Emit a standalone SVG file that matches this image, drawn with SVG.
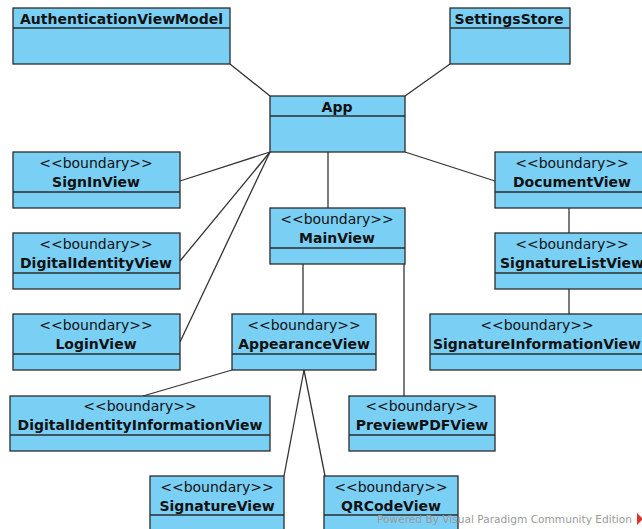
<svg xmlns="http://www.w3.org/2000/svg" width="642" height="529" viewBox="0 0 642 529">
<style>
.box{fill:#7acff5;stroke:#2b2b2b;stroke-width:1.3}
.div{stroke:#2b2b2b;stroke-width:1.3}
.st{font-family:"DejaVu Sans",sans-serif;font-size:14px;fill:#111;text-anchor:middle}
.nm{font-family:"DejaVu Sans",sans-serif;font-size:14px;font-weight:bold;fill:#111;text-anchor:middle}
.edges line{stroke:#333;stroke-width:1.3}
.wm{font-family:"DejaVu Sans",sans-serif;font-size:11px;fill:#9a9a9a}
</style>
<rect width="642" height="529" fill="#fff"/>
<g class="edges" id="connectors">
<line x1="230" y1="64" x2="270" y2="96"/>
<line x1="450" y1="64" x2="405" y2="96"/>
<line x1="270" y1="152" x2="180" y2="181"/>
<line x1="270" y1="152" x2="180" y2="261"/>
<line x1="270" y1="152" x2="180" y2="342"/>
<line x1="328" y1="152" x2="328" y2="208"/>
<line x1="405" y1="152" x2="495" y2="181"/>
<line x1="569" y1="208" x2="569" y2="233"/>
<line x1="569" y1="289" x2="569" y2="314"/>
<line x1="303" y1="264" x2="303" y2="314"/>
<line x1="404" y1="264" x2="404" y2="396"/>
<line x1="232" y1="370" x2="143" y2="396"/>
<line x1="304" y1="370" x2="284" y2="476"/>
<line x1="304" y1="370" x2="325" y2="476"/>
</g>
<g id="AuthenticationViewModel">
<rect class="box" x="13" y="8" width="217" height="56"/>
<line class="div" x1="13" y1="28" x2="230" y2="28"/>
<text class="nm" x="121.5" y="24">AuthenticationViewModel</text>
</g>
<g id="SettingsStore">
<rect class="box" x="450" y="8" width="120" height="56"/>
<line class="div" x1="450" y1="28" x2="570" y2="28"/>
<text class="nm" x="509" y="24">SettingsStore</text>
</g>
<g id="App">
<rect class="box" x="270" y="96" width="135" height="56"/>
<line class="div" x1="270" y1="116" x2="405" y2="116"/>
<text class="nm" x="337" y="112">App</text>
</g>
<g id="SignInView">
<rect class="box" x="13" y="152" width="167" height="56"/>
<line class="div" x1="13" y1="192" x2="180" y2="192"/>
<text class="st" x="96" y="168">&lt;&lt;boundary&gt;&gt;</text>
<text class="nm" x="96" y="187">SignInView</text>
</g>
<g id="DigitalIdentityView">
<rect class="box" x="13" y="233" width="167" height="56"/>
<line class="div" x1="13" y1="273" x2="180" y2="273"/>
<text class="st" x="96" y="249">&lt;&lt;boundary&gt;&gt;</text>
<text class="nm" x="96" y="268">DigitalIdentityView</text>
</g>
<g id="LoginView">
<rect class="box" x="13" y="314" width="167" height="56"/>
<line class="div" x1="13" y1="354" x2="180" y2="354"/>
<text class="st" x="96" y="330">&lt;&lt;boundary&gt;&gt;</text>
<text class="nm" x="96" y="349">LoginView</text>
</g>
<g id="MainView">
<rect class="box" x="270" y="208" width="135" height="56"/>
<line class="div" x1="270" y1="248" x2="405" y2="248"/>
<text class="st" x="337" y="224">&lt;&lt;boundary&gt;&gt;</text>
<text class="nm" x="337" y="243">MainView</text>
</g>
<g id="AppearanceView">
<rect class="box" x="232" y="314" width="144" height="56"/>
<line class="div" x1="232" y1="354" x2="376" y2="354"/>
<text class="st" x="304" y="330">&lt;&lt;boundary&gt;&gt;</text>
<text class="nm" x="304" y="349">AppearanceView</text>
</g>
<g id="DocumentView">
<rect class="box" x="495" y="152" width="155" height="56"/>
<line class="div" x1="495" y1="192" x2="650" y2="192"/>
<text class="st" x="572" y="168">&lt;&lt;boundary&gt;&gt;</text>
<text class="nm" x="572" y="187">DocumentView</text>
</g>
<g id="SignatureListView">
<rect class="box" x="495" y="233" width="155" height="56"/>
<line class="div" x1="495" y1="273" x2="650" y2="273"/>
<text class="st" x="572" y="249">&lt;&lt;boundary&gt;&gt;</text>
<text class="nm" x="572" y="268">SignatureListView</text>
</g>
<g id="SignatureInformationView">
<rect class="box" x="430" y="314" width="215" height="56"/>
<line class="div" x1="430" y1="354" x2="645" y2="354"/>
<text class="st" x="537" y="330">&lt;&lt;boundary&gt;&gt;</text>
<text class="nm" x="537" y="349">SignatureInformationView</text>
</g>
<g id="DigitalIdentityInformationView">
<rect class="box" x="10" y="396" width="260" height="55"/>
<line class="div" x1="10" y1="435" x2="270" y2="435"/>
<text class="st" x="140" y="411">&lt;&lt;boundary&gt;&gt;</text>
<text class="nm" x="140" y="430">DigitalIdentityInformationView</text>
</g>
<g id="PreviewPDFView">
<rect class="box" x="349" y="396" width="146" height="55"/>
<line class="div" x1="349" y1="435" x2="495" y2="435"/>
<text class="st" x="422" y="411">&lt;&lt;boundary&gt;&gt;</text>
<text class="nm" x="422" y="430">PreviewPDFView</text>
</g>
<g id="SignatureView">
<rect class="box" x="150" y="476" width="134" height="60"/>
<line class="div" x1="150" y1="515" x2="284" y2="515"/>
<text class="st" x="217" y="492">&lt;&lt;boundary&gt;&gt;</text>
<text class="nm" x="217" y="511">SignatureView</text>
</g>
<g id="QRCodeView">
<rect class="box" x="324" y="476" width="134" height="60"/>
<line class="div" x1="324" y1="515" x2="458" y2="515"/>
<text class="st" x="391" y="492">&lt;&lt;boundary&gt;&gt;</text>
<text class="nm" x="391" y="511">QRCodeView</text>
</g>
<text class="wm" x="377" y="523" textLength="255" lengthAdjust="spacingAndGlyphs">Powered By Visual Paradigm Community Edition</text>
<polygon points="637,513 642,518 642,520 637,525" fill="#d9342b"/>
</svg>
